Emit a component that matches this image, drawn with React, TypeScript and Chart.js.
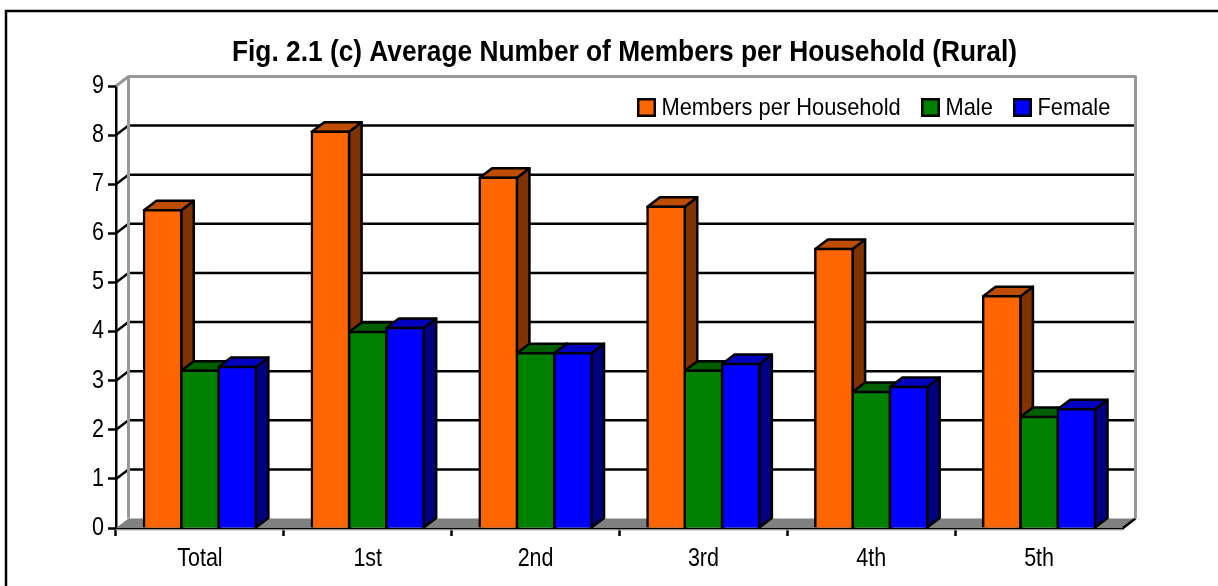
import React, { useEffect, useRef } from "react";
import { Chart, registerables } from "chart.js";

Chart.register(...registerables);

const categories = ["Total", "1st", "2nd", "3rd", "4th", "5th"];
const seriesNames = ["Members per Household", "Male", "Female"];
const membersValues = [6.47, 8.07, 7.13, 6.54, 5.68, 4.72];
const maleValues = [3.2, 3.99, 3.56, 3.2, 2.77, 2.26];
const femaleValues = [3.28, 4.07, 3.56, 3.34, 2.87, 2.42];
const titleText = "Fig. 2.1 (c) Average Number of Members per Household (Rural)";

const frontColors = ["#FF6600", "#008000", "#0000FF"];
const topColors = ["#BF4D00", "#006000", "#0000BF"];
const sideColors = ["#803300", "#004000", "#000080"];
const FONT = '"Liberation Sans", Arial, sans-serif';
const DX = 12.5;
const DY = -9.5;
const LINE = 2.5;
const TICK_CONDENSE = 0.86;
const LEGEND_CONDENSE = 0.91;

const poly = (ctx: CanvasRenderingContext2D, pts: number[][], fill?: string) => {
  ctx.beginPath();
  pts.forEach((p, i) => (i ? ctx.lineTo(p[0], p[1]) : ctx.moveTo(p[0], p[1])));
  ctx.closePath();
  if (fill) {
    ctx.fillStyle = fill;
    ctx.fill();
  }
};

const scenePlugin = {
  id: "scene3d",
  afterLayout(chart: any) {
    if (chart.titleBlock) {
      // the title block's width is the title's maximum text width
      chart.titleBlock.left = 232;
      chart.titleBlock.right = 1017;
    }
  },
  beforeDraw(chart: any) {
    const ctx = chart.ctx;
    ctx.save();
    ctx.strokeStyle = "#000";
    ctx.lineWidth = LINE;
    ctx.beginPath();
    ctx.moveTo(6, 586);
    ctx.lineTo(6, 11);
    ctx.lineTo(1218, 11);
    ctx.stroke();
    ctx.restore();
  },
  beforeDatasetsDraw(chart: any) {
    const ctx = chart.ctx;
    const { left, right, top, bottom } = chart.chartArea;
    const y = chart.scales.y;
    ctx.save();
    // floor
    poly(ctx, [[left, bottom], [left + DX, bottom + DY], [right + DX, bottom + DY], [right, bottom]], "#808080");
    ctx.strokeStyle = "#000";
    ctx.lineWidth = LINE;
    ctx.beginPath();
    ctx.moveTo(right, bottom);
    ctx.lineTo(right + DX, bottom + DY);
    ctx.stroke();
    ctx.strokeStyle = "#B0B0B0";
    ctx.lineWidth = 1;
    ctx.beginPath();
    ctx.moveTo(left, bottom + 2);
    ctx.lineTo(right, bottom + 2);
    ctx.stroke();
    // back-wall grid lines and their slanted joints to the value axis
    ctx.strokeStyle = "#000";
    ctx.lineWidth = LINE;
    for (let v = 1; v <= 8; v++) {
      const p = y.getPixelForValue(v);
      ctx.beginPath();
      ctx.moveTo(left, p);
      ctx.lineTo(left + DX, p + DY);
      ctx.lineTo(right + DX, p + DY);
      ctx.stroke();
    }
    // walls
    ctx.strokeStyle = "#999999";
    ctx.lineWidth = 3;
    ctx.lineJoin = "round";
    ctx.beginPath();
    ctx.moveTo(left + DX, bottom + DY);
    ctx.lineTo(left + DX, top + DY);
    ctx.lineTo(right + DX, top + DY);
    ctx.lineTo(right + DX, bottom + DY);
    ctx.moveTo(left, top);
    ctx.lineTo(left + DX, top + DY);
    ctx.stroke();
    // bar tops and sides, left to right; the fronts are painted over them
    ctx.strokeStyle = "#000";
    ctx.lineWidth = LINE;
    ctx.lineJoin = "round";
    [0, 1, 2].forEach((d) => {
      chart.getDatasetMeta(d).data.forEach((bar: any) => {
        const half = bar.width / 2;
        const l = bar.x - half;
        const r = bar.x + half;
        const t = bar.y;
        const b = bar.base;
        const side = [[r, t], [r + DX, t + DY], [r + DX, b + DY], [r, b]];
        const lid = [[l, t], [l + DX, t + DY], [r + DX, t + DY], [r, t]];
        poly(ctx, side, sideColors[d]);
        ctx.stroke();
        poly(ctx, lid, topColors[d]);
        ctx.stroke();
      });
    });
    ctx.restore();
  },
  afterDraw(chart: any) {
    const ctx = chart.ctx;
    ctx.save();
    ctx.font = `24px ${FONT}`;
    ctx.textBaseline = "middle";
    ctx.textAlign = "left";
    const xs = [637, 921, 1013];
    seriesNames.forEach((name, i) => {
      ctx.fillStyle = frontColors[i];
      ctx.strokeStyle = "#000";
      ctx.lineWidth = LINE;
      ctx.fillRect(xs[i] + 1.25, 99.25, 16.5, 16.5);
      ctx.strokeRect(xs[i] + 1.25, 99.25, 16.5, 16.5);
      ctx.fillStyle = "#000";
      ctx.fillText(name, xs[i] + 24.5, 108, ctx.measureText(name).width * LEGEND_CONDENSE);
    });
    ctx.restore();
  },
};

export default function App() {
  const ref = useRef<HTMLCanvasElement>(null);
  useEffect(() => {
    const canvas = ref.current!;
    const ctx: any = canvas.getContext("2d");
    // The reference's type is narrower than any installed face: condense on draw.
    const plainFillText = ctx.fillText.bind(ctx);
    ctx.fillText = (text: string, x: number, y: number, maxWidth?: number) =>
      plainFillText(text, x, y, maxWidth ?? ctx.measureText(text).width * TICK_CONDENSE);
    const chart = new Chart(canvas, {
      type: "bar",
      data: {
        labels: categories,
        datasets: [membersValues, maleValues, femaleValues].map((data, i) => ({
          label: seriesNames[i],
          data,
          backgroundColor: frontColors[i],
          borderColor: "#000",
          borderWidth: LINE,
          inflateAmount: LINE / 2,
          categoryPercentage: 2 / 3,
          barPercentage: 1,
        })),
      },
      options: {
        animation: false,
        responsive: false,
        layout: { padding: { left: 0, right: 95, top: 0, bottom: 0 } },
        plugins: {
          legend: { display: false },
          tooltip: { enabled: false },
          title: {
            display: true,
            text: titleText,
            color: "#000",
            font: { family: FONT, size: 30, weight: "bold" },
            padding: { top: 35, bottom: 15 },
          },
        },
        scales: {
          x: {
            afterFit: (s: any) => {
              s.height = 58;
            },
            border: { color: "#000", width: LINE },
            grid: {
              drawOnChartArea: false,
              tickLength: 8,
              tickWidth: LINE,
              tickColor: (c: any) => (c.tick ? "#000" : "transparent"),
            },
            ticks: { color: "#000", font: { family: FONT, size: 25 }, padding: 8, maxRotation: 0 },
          },
          y: {
            min: 0,
            max: 9,
            afterFit: (s: any) => {
              s.width = 116;
            },
            border: { color: "#000", width: LINE },
            grid: { drawOnChartArea: false, tickLength: 8, tickWidth: LINE, tickColor: "#000" },
            ticks: { stepSize: 1, color: "#000", font: { family: FONT, size: 25 }, padding: 4 },
          },
        },
      },
      plugins: [scenePlugin],
    } as any);
    return () => chart.destroy();
  }, []);
  return (
    <div style={{ position: "absolute", left: 0, top: 0, width: 1218, height: 586 }}>
      <canvas ref={ref} width={1218} height={586} style={{ display: "block" }} />
    </div>
  );
}
